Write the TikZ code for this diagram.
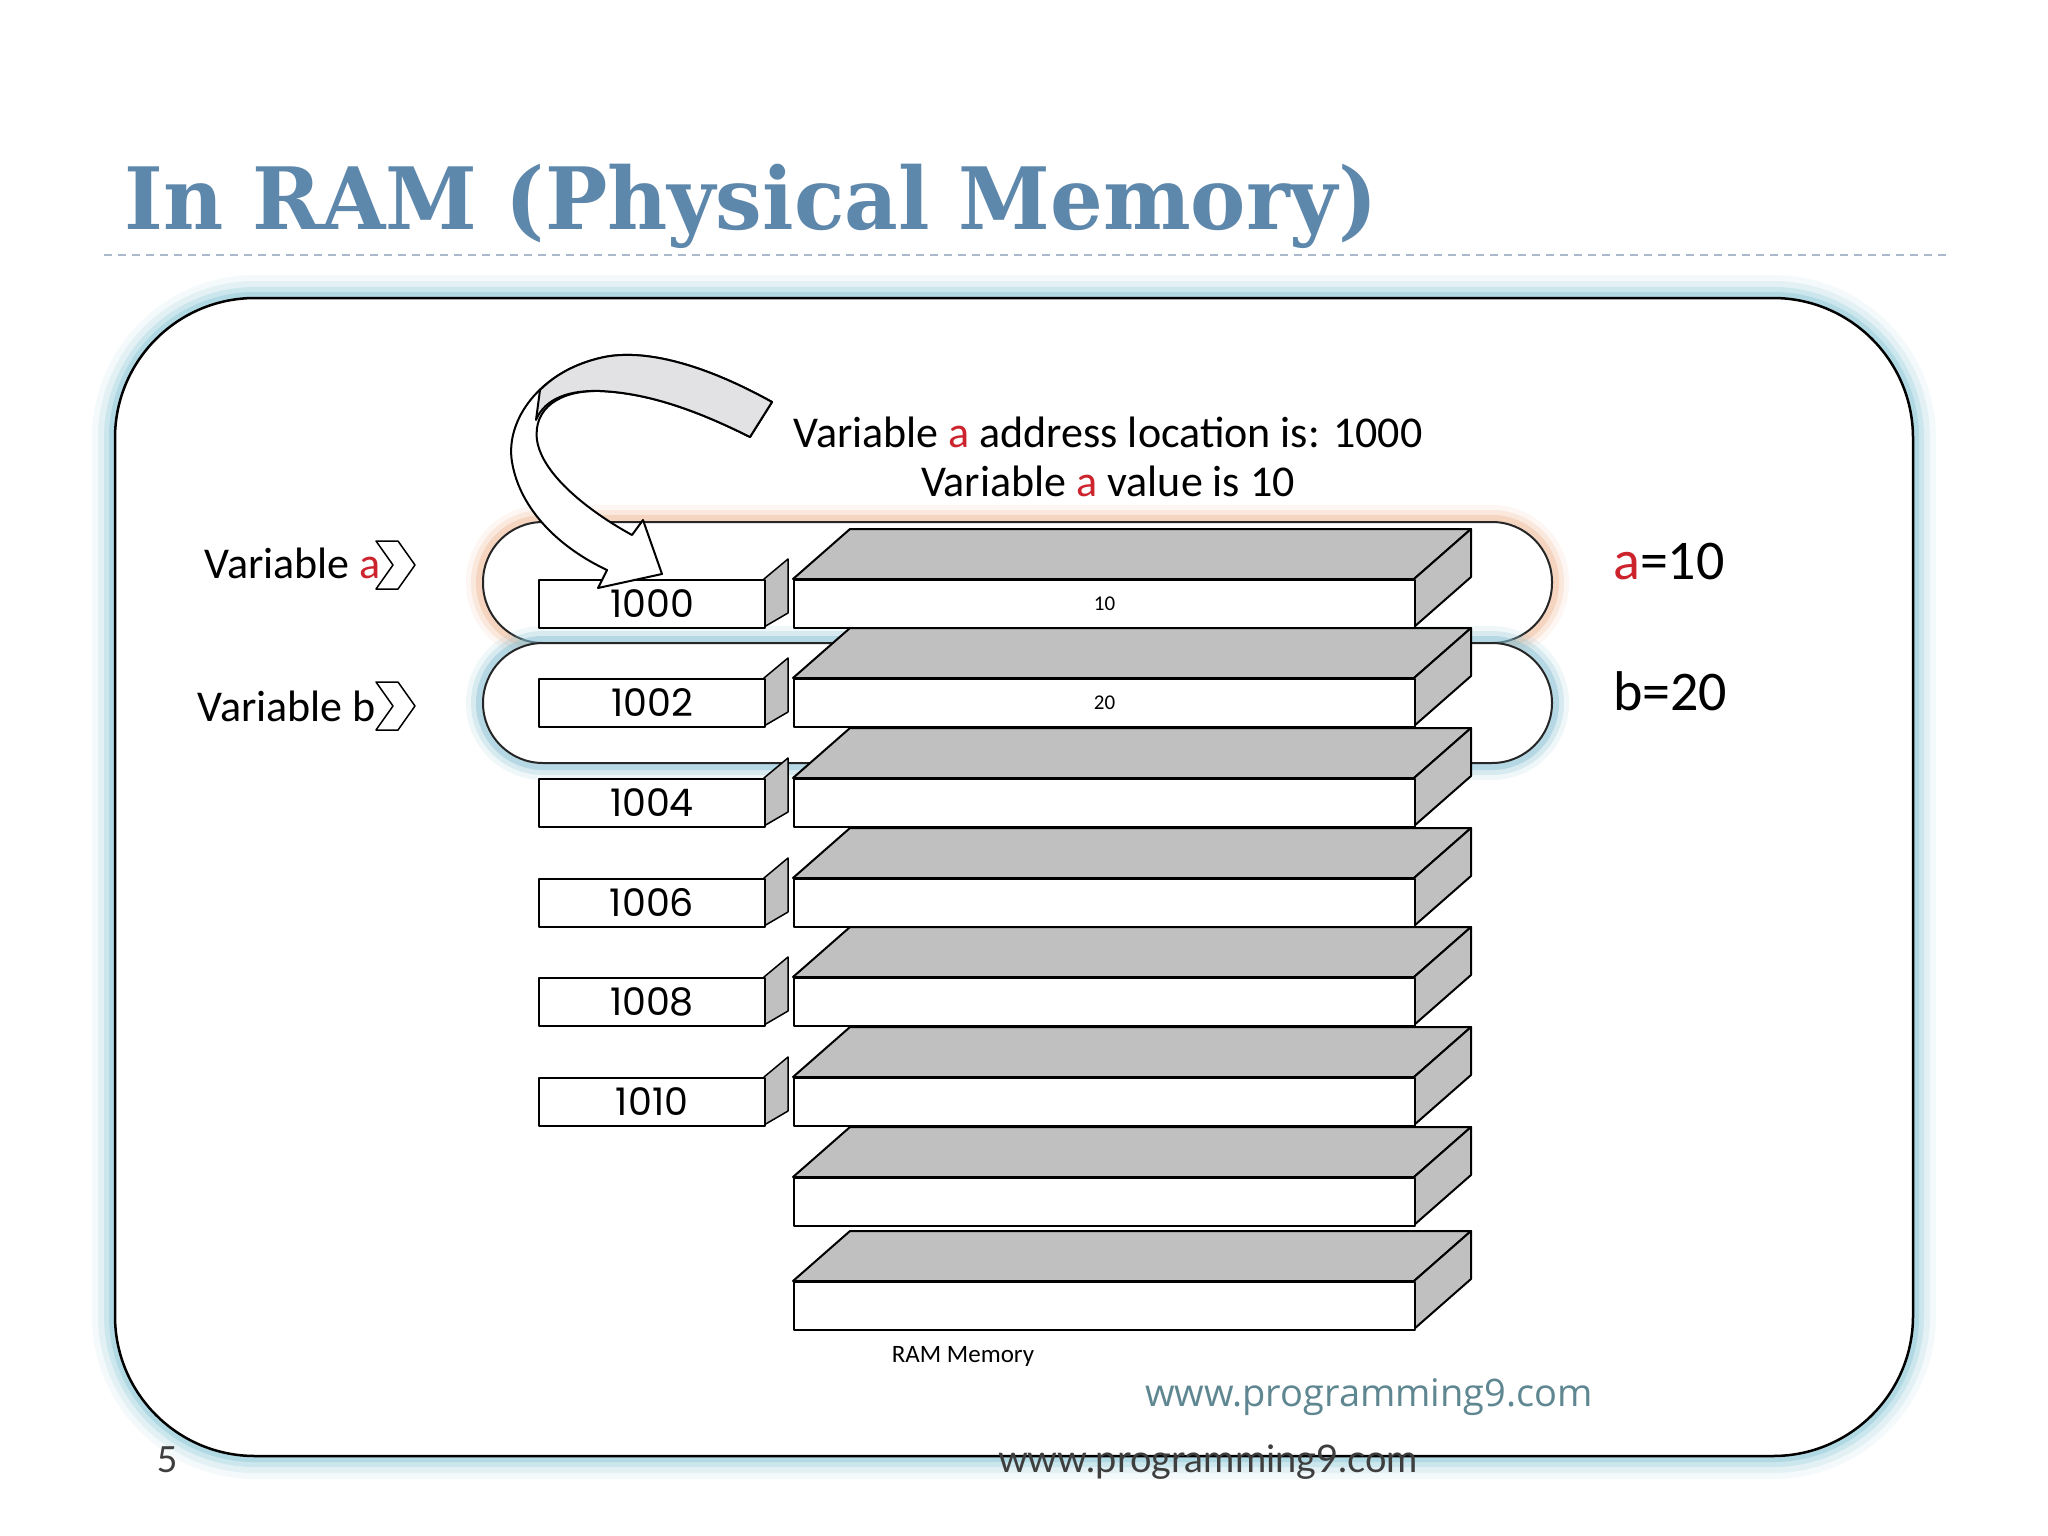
\documentclass[tikz,border=0pt]{standalone}
\usepackage{fontspec}
\setmainfont{Carlito}
\newfontfamily\titlefont{DejaVu Serif}
\newfontfamily\addrfont{Poppins}
\newfontfamily\webfont{Open Sans}
\newfontfamily\footfont{Lato}
\usetikzlibrary{positioning}

\definecolor{titleblue}{RGB}{94,135,172}
\definecolor{dashcol}{RGB}{170,186,202}
\definecolor{glowblue}{RGB}{150,205,220}
\definecolor{glowcyan}{RGB}{130,190,210}
\definecolor{gloworange}{RGB}{240,185,150}
\definecolor{memgray}{RGB}{192,192,192}
\definecolor{arrowgray}{RGB}{226,226,228}
\definecolor{webteal}{RGB}{95,135,145}
\definecolor{footgray}{RGB}{62,62,62}
\definecolor{varred}{RGB}{205,35,45}

\begin{document}
\begin{tikzpicture}
[x=1pt, y=-1pt,
 line join=round,
 memfront/.style={draw, fill=white, line width=2pt, minimum width=621pt,
   minimum height=48pt, inner sep=0pt, font=\fontsize{21}{21}\selectfont},
 memface/.style={draw, fill=memgray, line width=2pt},
 addrbox/.style={draw, fill=white, line width=2pt, minimum width=226pt,
   minimum height=48pt, inner sep=0pt, font=\addrfont\fontsize{38}{38}\selectfont},
 vartext/.style={font=\fontsize{44}{44}\selectfont, inner sep=0pt},
 valtext/.style={font=\fontsize{56}{56}\selectfont, inner sep=0pt, anchor=west},
 chevron/.style={draw, line width=1.5pt}
]
\useasboundingbox (0,0) rectangle (2048,1536);
\fill[white] (0,0) rectangle (2048,1536);

% title
\node[anchor=base west, inner sep=0pt, text=titleblue,
      font=\titlefont\bfseries\fontsize{86}{86}\selectfont] (title) at (124,229)
  {\scalebox{0.964}[1]{In RAM (Physical Memory)}};
\draw[dashcol, line width=2pt, dash pattern=on 8pt off 6pt] (104,255) -- (1946,255);

% frame
\foreach \w/\o in {46/0.1, 34/0.18, 22/0.3, 12/0.5}
  \draw[glowblue, line width=\w pt, opacity=\o, rounded corners=140pt]
    (115,298) rectangle (1913,1456);
\filldraw[fill=white, draw=black, line width=2.5pt, rounded corners=140pt]
  (115,298) rectangle (1913,1456);

% variable a / b rings
\foreach \w/\o in {34/0.12, 24/0.22, 14/0.4}
  \draw[gloworange, line width=\w pt, opacity=\o, rounded corners=60pt]
    (483,522) rectangle (1552,643);
\filldraw[fill=white, draw=black!85, line width=2pt, rounded corners=60pt]
  (483,522) rectangle (1552,643);
\foreach \w/\o in {34/0.12, 24/0.22, 14/0.4}
  \draw[glowcyan, line width=\w pt, opacity=\o, rounded corners=60pt]
    (483,643) rectangle (1552,763);
\filldraw[fill=white, draw=black!85, line width=2pt, rounded corners=60pt]
  (483,643) rectangle (1552,763);

% RAM cells
\foreach \i/\y in {1/579, 2/678, 3/778, 4/878, 5/977, 6/1077, 7/1177, 8/1281} {
  \filldraw[memface] (793,\y) -- ++(57,-50) -- ++(621,0) -- ++(-57,50) -- cycle;
  \filldraw[memface] (1414,\y) -- ++(57,-50) -- ++(0,48) -- ++(-57,50) -- cycle;
  \node[memfront, anchor=north west] (mem\i) at (793,\y) {};
}
\node[font=\fontsize{21}{21}\selectfont] at (mem1) {10};
\node[font=\fontsize{21}{21}\selectfont] at (mem2) {20};

% addresses
\foreach \i/\y/\a in {1/579/1000, 2/678/1002, 3/778/1004, 4/878/1006, 5/977/1008, 6/1077/1010} {
  \filldraw[memface, line width=1.5pt] (764,\y) -- ++(24,-20) -- ++(0,54) -- ++(-24,14) -- cycle;
  \node[addrbox, anchor=north west] (addr\i) at (538,\y) {\a};
}

% curved arrow
\filldraw[fill=white, draw=black, line width=2pt]
  (772,402) .. controls (700,362) and (640,348) .. (600,358)
  .. controls (540,372) and (505,420) .. (512,462)
  .. controls (520,510) and (560,548) .. (607,570)
  -- (598,588) -- (662,574) -- (643,520) -- (632,535)
  .. controls (590,512) and (542,475) .. (537,440)
  .. controls (533,408) and (560,390) .. (600,391)
  .. controls (650,393) and (700,412) .. (750,437) -- cycle;
\filldraw[fill=arrowgray, draw=black, line width=2pt]
  (772,402) .. controls (700,362) and (640,348) .. (600,358)
  .. controls (575,364) and (555,375) .. (540,390) -- (536,420)
  .. controls (545,398) and (570,390) .. (600,391)
  .. controls (650,393) and (700,412) .. (750,437) -- cycle;

% notes
\node[vartext] (addrnote) at (1108,432)
  {Variable \textcolor{varred}{a} address location is: 1000};
\node[vartext, below=18pt of addrnote] (valnote)
  {Variable \textcolor{varred}{a} value is 10};

\node[vartext, anchor=east] (vara) at (381,563) {Variable \textcolor{varred}{a}};
\node[vartext, anchor=east] (varb) at (376,706) {Variable b};
\draw[chevron] (376,541) -- (398,541) -- (415,565) -- (398,589) -- (376,589) -- (393,565) -- cycle;
\draw[chevron] (376,682) -- (398,682) -- (415,706) -- (398,730) -- (376,730) -- (393,706) -- cycle;

\node[valtext] (aval) at (1613,562) {\textcolor{varred}{a}=10};
\node[valtext] (bval) at (1613,691) {b=20};

% captions
\node[font=\fontsize{25}{25}\selectfont, inner sep=0pt] (ramcap) at (963,1356) {RAM Memory};
\node[font=\webfont\fontsize{38}{38}\selectfont, text=webteal, inner sep=0pt] (web) at (1369,1397)
  {www.programming9.com};
\node[font=\footfont\fontsize{38}{38}\selectfont, text=footgray, inner sep=0pt] (foot) at (1208,1462)
  {www.programming9.com};
\node[font=\footfont\fontsize{36}{36}\selectfont, text=footgray, inner sep=0pt] (page) at (167,1460) {5};
\end{tikzpicture}
\end{document}
